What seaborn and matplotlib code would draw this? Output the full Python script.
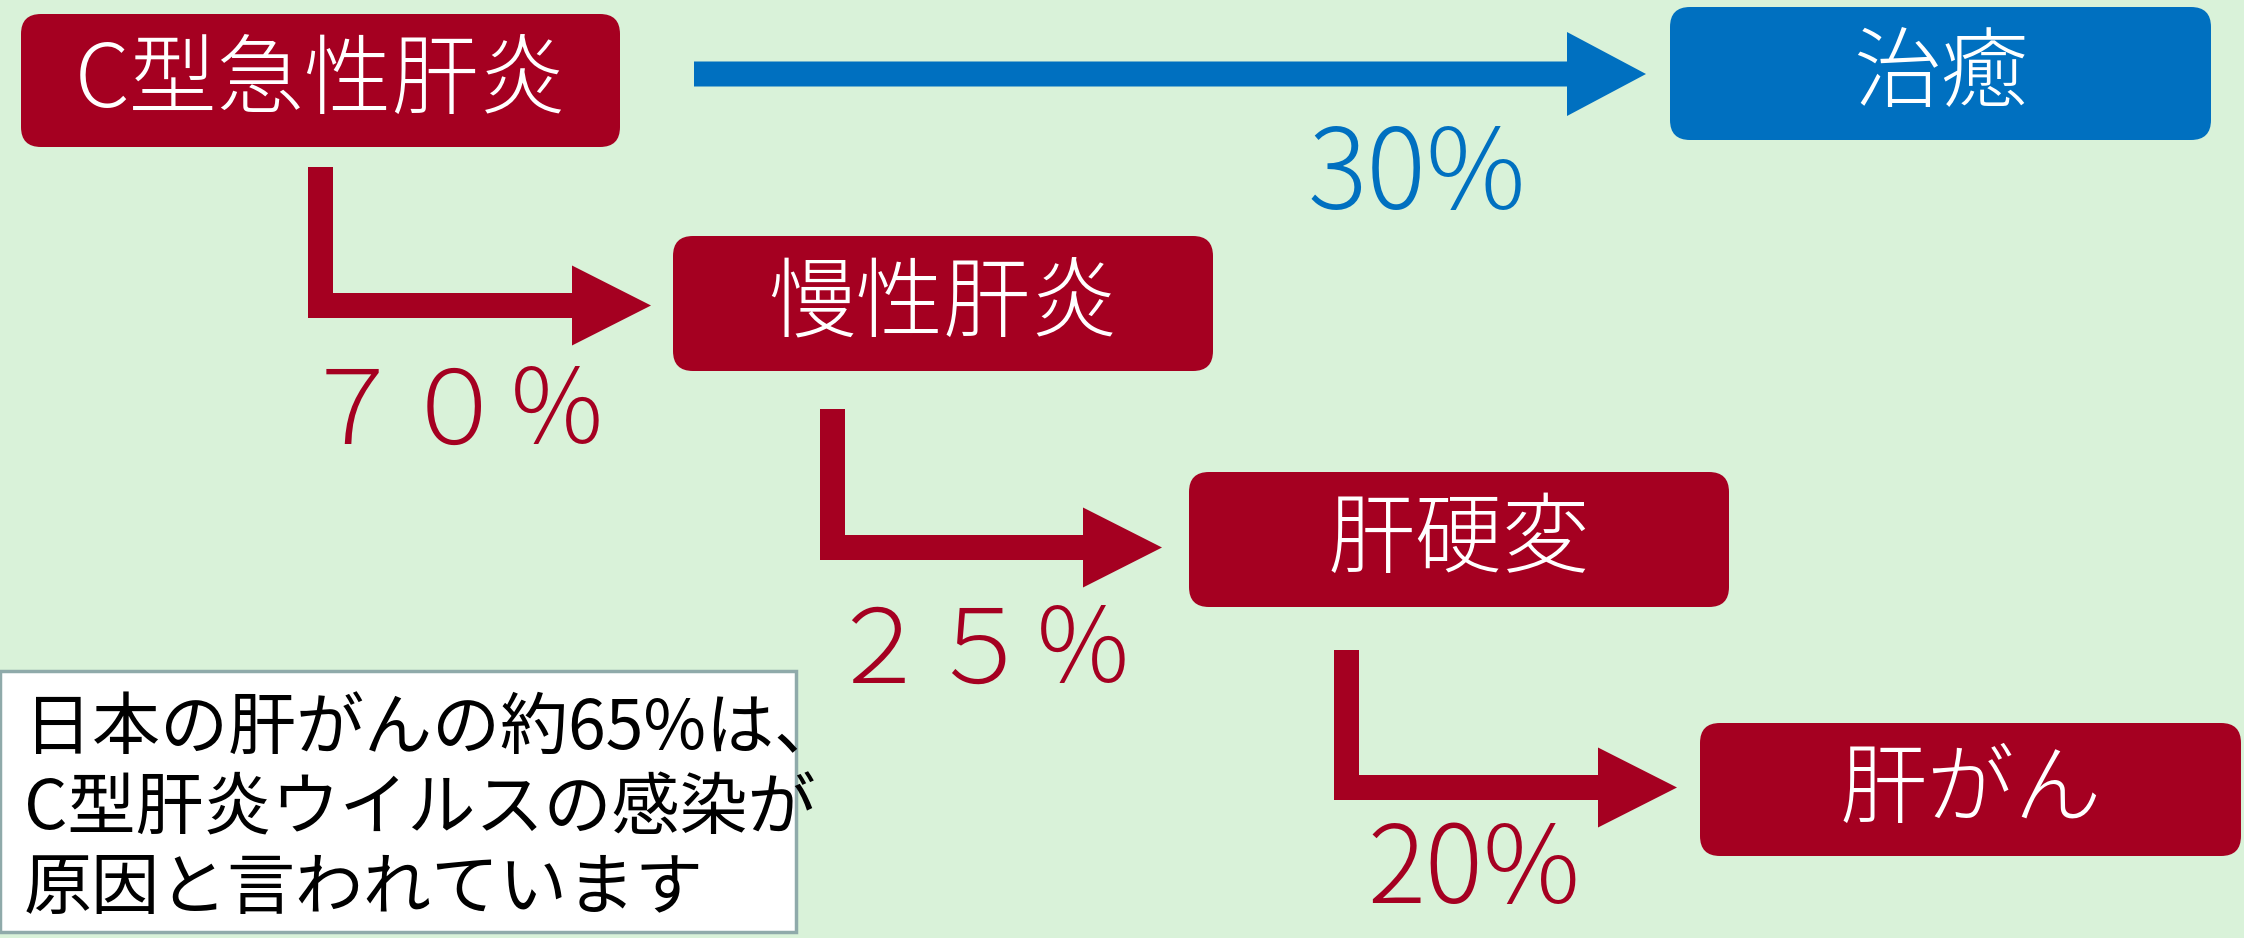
import matplotlib
matplotlib.use("Agg")
import matplotlib.pyplot as plt
import seaborn as sns
from matplotlib.patches import FancyBboxPatch, Polygon, Rectangle

# ---------------- data ----------------
stages = ["C型急性肝炎", "慢性肝炎", "肝硬変", "肝がん"]
outcome = "治癒"
cure_rate = 30                     # % of acute hepatitis C that is cured
progression_rates = [70, 25, 20]   # % moving to the next stage
note_lines = ["日本の肝がんの約65%は、", "C型肝炎ウイルスの感染が", "原因と言われています"]

# ---------------- styles / layout ----------------
BG = "#D9F2D9"
RED = "#A50021"
BLUE = "#0070C0"

sns.set_theme(style="white")
plt.rcParams['font.family'] = ['Noto Sans CJK JP', 'DejaVu Sans']

W, H = 2244, 938
fig = plt.figure(figsize=(W / 100, H / 100), dpi=100)
fig.patch.set_facecolor(BG)
ax = fig.add_axes([0, 0, 1, 1])
ax.set_facecolor(BG)
ax.set_xlim(0, W)
ax.set_ylim(H, 0)
ax.axis('off')

stage_boxes = [(21, 14, 599, 133), (673, 236, 540, 135), (1189, 472, 540, 135), (1700, 723, 541, 133)]
cure_box = (1670, 7, 541, 133)
# L-arrows: bar left x, bar top y, shaft bottom y, head base x, tip x
l_arrows = [(308, 167, 318, 572, 651), (820, 409, 560, 1083, 1162), (1334, 650, 800, 1598, 1677)]
rate_pos = [(455, 415), (980, 654), (1474, 872)]
rate_fullwidth = [True, True, False]
cure_pos = (1417, 178)
THICK = 25
HEAD_HALF = 40

FW = str.maketrans("0123456789%", "０１２３４５６７８９％")


def draw_box(box, color, text):
    x, y, w, h = box
    p = FancyBboxPatch((x, y), w, h, boxstyle="round,pad=0,rounding_size=20",
                       facecolor=color, edgecolor="none")
    ax.add_patch(p)
    ax.text(x + w / 2, y + h / 2 + 2, text, color="white", fontsize=63,
            ha="center", va="center", fontweight="light")


for box, name in zip(stage_boxes, stages):
    draw_box(box, RED, name)
draw_box(cure_box, BLUE, outcome)

# blue straight arrow
x0, x1, xt, yc = 694, 1567, 1646, 74
blue_pts = [(x0, yc - THICK / 2), (x1, yc - THICK / 2), (x1, yc - HEAD_HALF - 2), (xt, yc),
            (x1, yc + HEAD_HALF + 2), (x1, yc + THICK / 2), (x0, yc + THICK / 2)]
ax.add_patch(Polygon(blue_pts, closed=True, facecolor=BLUE, edgecolor="none"))
ax.text(cure_pos[0], cure_pos[1], f"{cure_rate}%", color=BLUE, fontsize=80,
        ha="center", va="center", fontweight="light")

# red L arrows
for (xl, yt, yb, hx, tip), pos, rate, fw in zip(l_arrows, rate_pos, progression_rates, rate_fullwidth):
    yc = yb - THICK / 2
    pts = [(xl, yt), (xl + THICK, yt), (xl + THICK, yb - THICK), (hx, yb - THICK),
           (hx, yc - HEAD_HALF), (tip, yc), (hx, yc + HEAD_HALF), (hx, yb), (xl, yb)]
    ax.add_patch(Polygon(pts, closed=True, facecolor=RED, edgecolor="none"))
    label = f"{rate}%"
    if fw:
        label = label.translate(FW)
    ax.text(pos[0], pos[1], label, color=RED, fontsize=74 if fw else 78,
            ha="center", va="center", fontweight="light")

# note box
ax.add_patch(Rectangle((0, 671), 796, 261, facecolor="white", edgecolor="#8FAAAA", lw=2.5))
for i, line in enumerate(note_lines):
    ax.text(24, 730 + i * 80, line, color="black", fontsize=49,
            ha="left", va="center")

fig.savefig("out.png", dpi=100, facecolor=BG)
